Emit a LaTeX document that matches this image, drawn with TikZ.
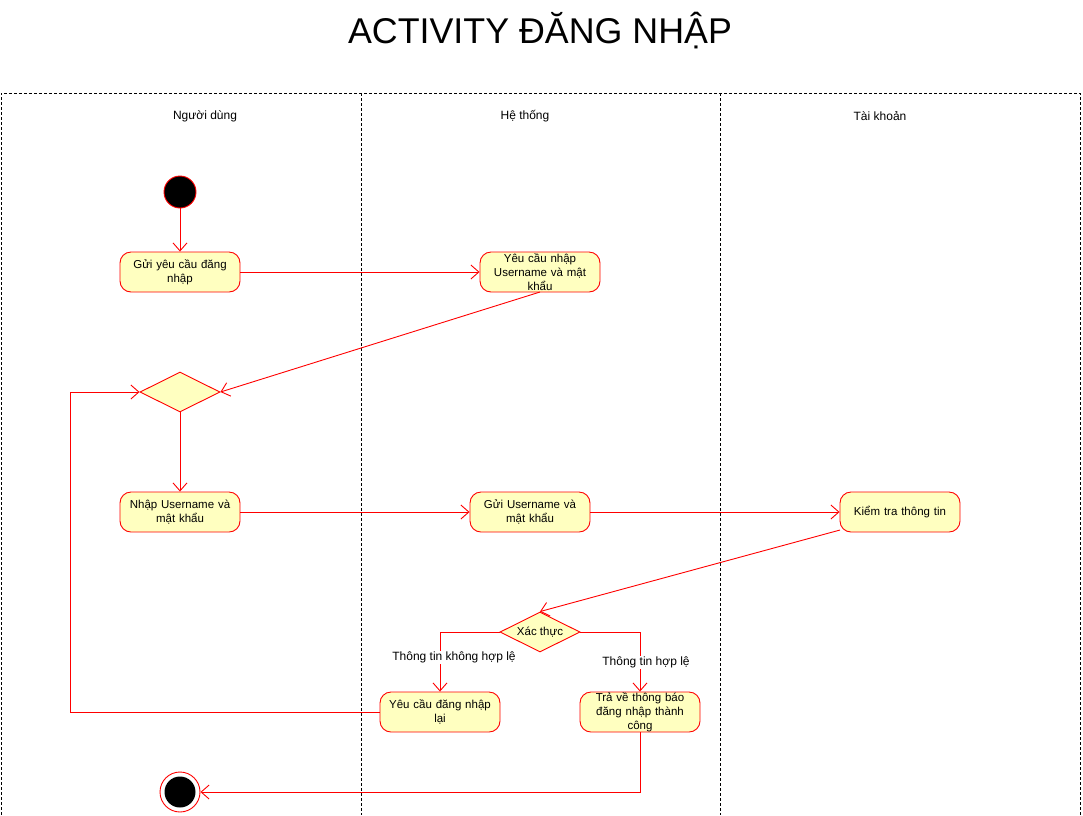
\documentclass[tikz,border=0pt]{standalone}
\usepackage{fontspec}
\setmainfont{Liberation Sans}
\usetikzlibrary{arrows.meta,shapes.geometric}
\definecolor{actfill}{HTML}{FFFFC0}
\definecolor{actred}{HTML}{FF0000}
\tikzset{
  act/.style={draw=actred, fill=actfill, rounded corners=11pt, minimum width=120pt, minimum height=40pt, text width=112pt, align=center, inner sep=0pt, font=\fontsize{11.5}{14}\selectfont, line width=0.9pt},
  dec/.style={draw=actred, fill=actfill, diamond, minimum width=80pt, minimum height=40pt, inner sep=0pt, aspect=2, font=\fontsize{11.5}{14}\selectfont, line width=0.9pt},
  flow/.style={draw=actred, line width=0.9pt, -{Straight Barb[length=8pt,width=14pt,line width=0.9pt]}},
  lane/.style={line width=0.7pt, dash pattern=on 3pt off 2pt},
  lbl/.style={font=\fontsize{12}{14}\selectfont, inner sep=1pt, fill=white},
  hdr/.style={font=\fontsize{12}{14}\selectfont}
}
\begin{document}
\begin{tikzpicture}[x=1pt,y=-1pt]
\useasboundingbox (0,0) rectangle (1083,815);
% title
\node (title) at (540,31) {\fontsize{35.8}{40}\selectfont ACTIVITY ĐĂNG NHẬP};
% lanes
\draw[lane] (1,815) -- (1,93) -- (1080,93) -- (1080,815);
\draw[lane] (361,93) -- (361,815);
\draw[lane] (720,93) -- (720,815);
\node[hdr] (h1) at (205,116) {Người dùng};
\node[hdr] (h2) at (525,116) {Hệ thống};
\node[hdr] (h3) at (880,116) {Tài khoản};
% nodes
\node[circle, fill=black, draw=actred, line width=0.9pt, minimum size=32pt, inner sep=0pt] (start) at (180,192) {};
\node[act] (a1) at (180,272) {Gửi yêu cầu đăng\\nhập};
\node[act] (a2) at (540,272) {Yêu cầu nhập\\Username và mật\\khẩu};
\node[dec] (d1) at (180,392) {};
\node[act] (a3) at (180,512) {Nhập Username và\\mật khẩu};
\node[act] (a4) at (530,512) {Gửi Username và\\mật khẩu};
\node[act] (a5) at (900,512) {Kiểm tra thông tin};
\node[dec] (d2) at (540,632) {Xác thực};
\node[act] (a6) at (440,712) {Yêu cầu đăng nhập\\lại};
\node[act] (a7) at (640,712) {Trả về thông báo\\đăng nhập thành\\công};
\node[circle, draw=actred, line width=0.9pt, minimum size=40pt, inner sep=0pt] (end) at (180,792) {};
\node[circle, fill=black, minimum size=31pt, inner sep=0pt] (endin) at (180,792) {};
\coordinate (c1) at (840,530);
\coordinate (c2) at (540,292);
\coordinate (loopb) at (70,712);
\coordinate (loopt) at (70,392);
% connectors
\draw[flow] (start) -- (a1);
\draw[flow] (a1) -- (a2);
\draw[flow] (c2) -- (d1.east);
\draw[flow] (d1) -- (a3);
\draw[flow] (a3) -- (a4);
\draw[flow] (a4) -- (a5);
\draw[flow] (c1) -- (d2.north);
\draw[flow] (d2.west) -| (a6.north);
\draw[flow] (d2.east) -| (a7.north);
\node[lbl] (l1) at (454,657.5) {Thông tin không hợp lệ};
\node[lbl] (l2) at (646,662.5) {Thông tin hợp lệ};
\draw[flow] (a6.west) -- (loopb) -- (loopt) -- (d1.west);
\draw[flow] (a7.south) |- (end.east);
\end{tikzpicture}
\end{document}
